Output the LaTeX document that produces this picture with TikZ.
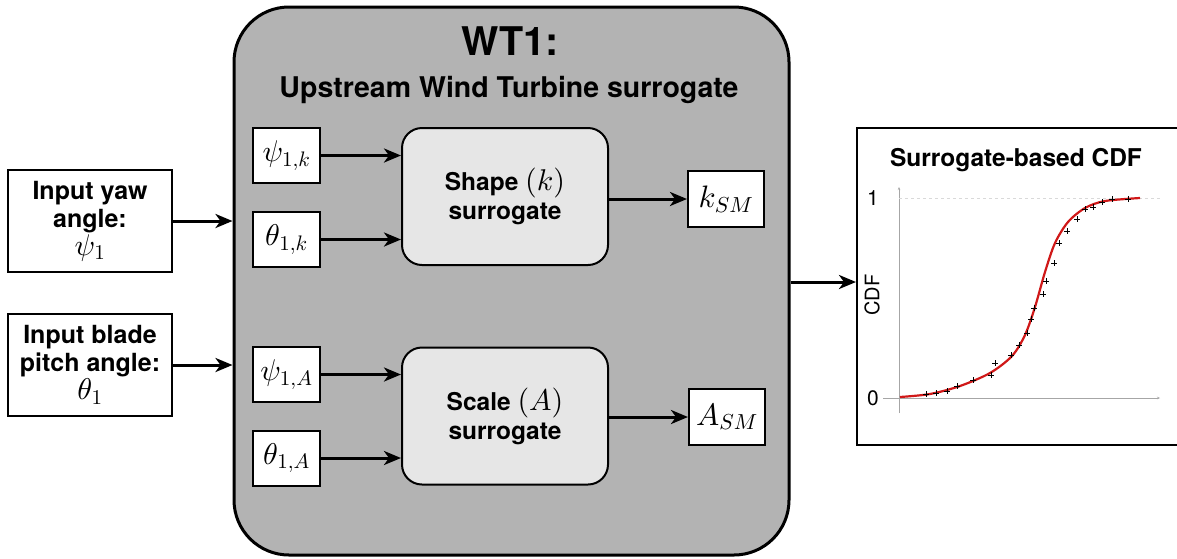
\documentclass[tikz,border=0pt]{standalone}
\usepackage{fontspec}
\setmainfont{TeX Gyre Heros}
\usetikzlibrary{arrows.meta,calc}
% scalable math fonts
\DeclareFontShape{OML}{cmm}{m}{it}{<->cmmi10}{}
\DeclareFontShape{OT1}{cmr}{m}{n}{<->cmr10}{}
\DeclareFontShape{OMS}{cmsy}{m}{n}{<->cmsy10}{}
\definecolor{wtgray}{HTML}{B3B3B3}
\definecolor{smgray}{HTML}{E6E6E6}
\definecolor{curvered}{HTML}{D01818}
\newcommand{\mjx}[1]{{\fontsize{30}{30}\selectfont$#1$}}

\tikzset{
  inbox/.style={draw, line width=2pt, fill=white, minimum width=164pt, minimum height=102pt,
    align=center, inner sep=0pt, font=\fontsize{25}{28}\selectfont\bfseries},
  varbox/.style={draw, line width=2pt, fill=white, minimum width=67pt, minimum height=55pt,
    inner sep=0pt, font=\fontsize{30}{32}\selectfont},
  outbox/.style={varbox, minimum width=76pt, minimum height=56pt, font=\fontsize{31}{32}\selectfont},
  smbox/.style={draw, line width=2pt, fill=smgray, rounded corners=20pt, minimum width=206pt,
    minimum height=137pt, align=center, font=\fontsize{24.5}{29}\selectfont\bfseries},
  arr/.style={line width=3pt, -{Stealth[length=17pt,width=14pt,inset=5pt]}},
}

\begin{document}
\begin{tikzpicture}[x=1pt,y=-1pt]
  \useasboundingbox (0,0) rectangle (1177,558);

  % upstream turbine block
  \node[draw, line width=3pt, fill=wtgray, rounded corners=55pt,
        minimum width=555pt, minimum height=548pt] (wt) at (511.5,281) {};
  \node[anchor=base, font=\fontsize{39.5}{40}\selectfont\bfseries] (wttitle) at (510,55) {WT1:};
  \node[anchor=base, font=\fontsize{28.5}{30}\selectfont\bfseries] (wtsub) at (509,97) {Upstream Wind Turbine surrogate};

  % inputs
  \node[inbox] (yaw) at (90,221) {Input yaw\\ angle:\\ \mjx{\psi_1}};
  \node[inbox] (pitch) at (90,365) {Input blade\\ pitch angle:\\ \mjx{\theta_1}};

  % shape part
  \node[varbox] (psik) at (286.5,155.5) {$\psi_{1,k}$};
  \node[varbox] (thek) at (286.5,239.5) {$\theta_{1,k}$};
  \node[smbox] (shape) at (505,196.5) {Shape \mjx{(k)}\\ surrogate};
  \node[outbox] (ksm) at (726,199) {$k_{SM}$};

  % scale part
  \node[varbox] (psiA) at (286.5,374.5) {$\psi_{1,A}$};
  \node[varbox] (theA) at (286.5,458) {$\theta_{1,A}$};
  \node[smbox] (scale) at (505,416) {Scale \mjx{(A)}\\ surrogate};
  \node[outbox] (asm) at (727,417) {$A_{SM}$};

  % CDF panel
  \node[draw, line width=2pt, fill=white, minimum width=330pt, minimum height=317pt] (cdf) at (1022,286.5) {};
  \node[anchor=base, font=\fontsize{24.5}{27}\selectfont\bfseries] (cdftitle) at (1016,166) {Surrogate-based CDF};

  % arrows
  \draw[arr] (yaw) -- (yaw -| wt.west);
  \draw[arr] (pitch) -- (pitch -| wt.west);
  \draw[arr] (psik) -- (psik -| shape.west);
  \draw[arr] (thek) -- (thek -| shape.west);
  \draw[arr] (ksm -| shape.east) -- (ksm);
  \draw[arr] (psiA) -- (psiA -| scale.west);
  \draw[arr] (theA) -- (theA -| scale.west);
  \draw[arr] (asm -| scale.east) -- (asm);
  \draw[arr] (wt.east |- 0,282) -- (cdf.west |- 0,282);

  % plot
  \coordinate (O) at (899,398);
  \draw[gray!70, line width=0.8pt, -{Stealth[length=3pt,width=2.5pt]}] (883,398) -- (1160,398);
  \draw[gray!70, line width=0.8pt, -{Stealth[length=3pt,width=2.5pt]}] (899,413) -- (899,187);
  \draw[gray!30, dashed, line width=0.6pt] (899,198) -- (1160,198);
  \node[font=\fontsize{21}{24}\selectfont] (one) at (873,198) {1};
  \node[font=\fontsize{21}{24}\selectfont] (zero) at (873,398) {0};
  \node[rotate=90, font=\fontsize{20}{24}\selectfont] (cdflab) at (872,295) {CDF};

  \draw[curvered, line width=2.2pt] plot[smooth] coordinates {(900,397) (930,394) (960,386) (990,373)
    (1012,356) (1025,335) (1035,307) (1045,272) (1055,243) (1068,222) (1085,208) (1105,201) (1140,198)};

  \foreach \px/\py in {926/394, 936/393, 947/391, 957/386, 973/380, 991/375, 995/363, 1011/355,
      1019/345, 1027/333, 1031/319, 1034/308, 1043/294, 1046/281, 1054/263, 1059/243, 1067/231,
      1077/219, 1085/209, 1093/207, 1102/202, 1112/199, 1128/199}
    \draw[line width=0.7pt] (\px,\py) ++(-3,0) -- ++(6,0) ++(-3,-3) -- ++(0,6);
\end{tikzpicture}
\end{document}
